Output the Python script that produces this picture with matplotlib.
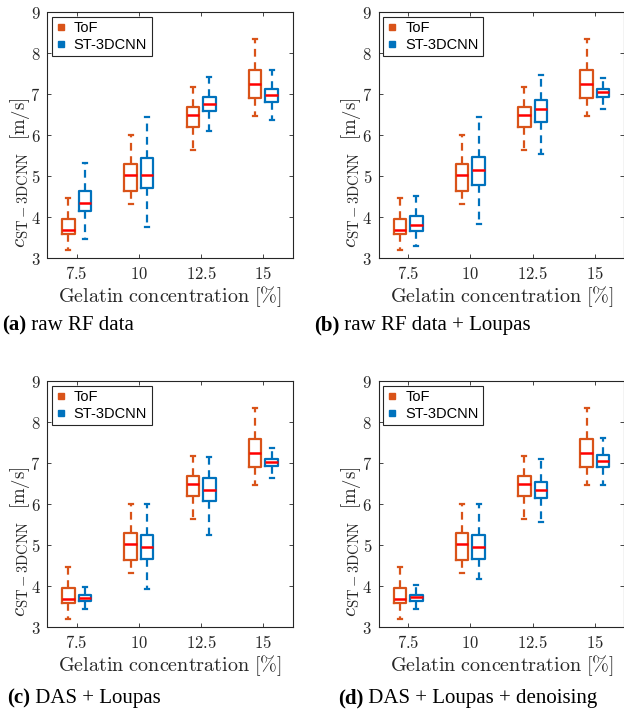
import numpy as np
import matplotlib.pyplot as plt
from matplotlib.lines import Line2D

plt.rcParams['mathtext.fontset'] = 'cm'

# concentrations en x
conc = [7.5, 10, 12.5, 15]
conc_labels = ['7.5', '10', '12.5', '15']

# ToF (identique sur les 4 panneaux): whislo, q1, med, q3, whishi
tof_lo = [3.20, 4.32, 5.65, 6.47]
tof_q1 = [3.59, 4.63, 6.20, 6.91]
tof_med = [3.70, 5.02, 6.50, 7.24]
tof_q3 = [3.95, 5.30, 6.70, 7.59]
tof_hi = [4.47, 6.01, 7.18, 8.35]

# ST-3DCNN (a) raw RF data
a_lo = [3.46, 3.76, 6.11, 6.37]
a_q1 = [4.15, 4.72, 6.59, 6.81]
a_med = [4.36, 5.04, 6.76, 6.99]
a_q3 = [4.63, 5.45, 6.93, 7.12]
a_hi = [5.33, 6.45, 7.42, 7.59]

# (b) raw RF data + Loupas
b_lo = [3.31, 3.84, 5.54, 6.65]
b_q1 = [3.67, 4.78, 6.33, 6.93]
b_med = [3.82, 5.15, 6.64, 7.06]
b_q3 = [4.02, 5.46, 6.86, 7.12]
b_hi = [4.51, 6.45, 7.46, 7.40]

# (c) DAS + Loupas
c_lo = [3.45, 3.94, 5.25, 6.65]
c_q1 = [3.63, 4.67, 6.07, 6.93]
c_med = [3.71, 4.96, 6.35, 7.02]
c_q3 = [3.78, 5.26, 6.65, 7.11]
c_hi = [3.98, 6.01, 7.16, 7.37]

# (d) DAS + Loupas + denoising
d_lo = [3.45, 4.19, 5.57, 6.47]
d_q1 = [3.65, 4.67, 6.16, 6.90]
d_med = [3.73, 4.96, 6.35, 7.05]
d_q3 = [3.80, 5.26, 6.54, 7.20]
d_hi = [4.02, 6.01, 7.11, 7.62]

st_data = [(a_lo, a_q1, a_med, a_q3, a_hi),
           (b_lo, b_q1, b_med, b_q3, b_hi),
           (c_lo, c_q1, c_med, c_q3, c_hi),
           (d_lo, d_q1, d_med, d_q3, d_hi)]
tof_data = (tof_lo, tof_q1, tof_med, tof_q3, tof_hi)

captions = [('(a)', ' raw RF data'),
            ('(b)', ' raw RF data + Loupas'),
            ('(c)', ' DAS + Loupas'),
            ('(d)', ' DAS + Loupas + denoising')]

c_tof = '#D95319'
c_st = '#0072BD'
gris = '#262626'

W, H = 624, 713
fig = plt.figure(figsize=(W / 100, H / 100), dpi=100)

# positions des axes en pixels (gauche, haut)
rects = [(47.5, 12.3), (379, 12.3), (47.5, 381.3), (379, 381.3)]
cap_pos = [(2, 330), (314, 330), (7, 703), (338, 703)]
aw, ah = 245, 246


def stats(d):
    lo, q1, med, q3, hi = d
    return [dict(whislo=lo[i], q1=q1[i], med=med[i], q3=q3[i], whishi=hi[i], fliers=[])
            for i in range(len(med))]


def boites(ax, d, pos, col):
    ax.bxp(stats(d), positions=pos, widths=0.5, capwidths=0.16, showfliers=False,
           boxprops=dict(color=col, lw=1.6),
           whiskerprops=dict(color=col, lw=1.6, linestyle=(0, (3.5, 2.5))),
           capprops=dict(color=col, lw=1.6),
           medianprops=dict(color='red', lw=1.8),
           manage_ticks=False)


for k in range(4):
    x0, y0 = rects[k]
    ax = fig.add_axes([x0 / W, 1 - (y0 + ah) / H, aw / W, ah / H])
    boites(ax, tof_data, [c - 0.33 for c in conc], c_tof)
    boites(ax, st_data[k], [c + 0.33 for c in conc], c_st)

    ax.set_xlim(6.33, 16.17)
    ax.set_ylim(3, 9)
    ax.set_xticks(conc)
    ax.set_xticklabels(['$' + s + '$' for s in conc_labels])
    ax.set_yticks(np.arange(3, 10))
    ax.set_yticklabels(['$%d$' % v for v in range(3, 10)])
    ax.tick_params(direction='in', top=True, right=True, length=3, width=0.6,
                   colors=gris, labelsize=12, pad=5)
    for s in ax.spines.values():
        s.set_color(gris)
        s.set_linewidth(0.8)

    ax.set_xlabel(r'$\mathrm{Gelatin\ concentration\ [\%]}$', fontsize=14.5, color=gris)
    ax.xaxis.set_label_coords(0.5, -0.105)
    ax.xaxis.label.set_va('top')

    # label y en deux morceaux (c_ST-3DCNN un peu plus grand que [m/s])
    ax.text(-0.092, 0.042, r'$c_{\mathrm{ST-3DCNN}}$', transform=ax.transAxes,
            rotation=90, rotation_mode='anchor', ha='left', va='baseline',
            fontsize=15, color=gris)
    ax.text(-0.092, 0.48, r'$[\mathrm{m/s}]$', transform=ax.transAxes,
            rotation=90, rotation_mode='anchor', ha='left', va='baseline',
            fontsize=13.5, color=gris)

    hdl = [Line2D([], [], marker='s', color=c_tof, ls='none', markersize=4),
           Line2D([], [], marker='s', color=c_st, ls='none', markersize=4)]
    leg = ax.legend(hdl, ['ToF', 'ST-3DCNN'], loc='upper left',
                    prop={'family': 'Liberation Sans', 'size': 10.5},
                    fancybox=False, edgecolor=gris, framealpha=1,
                    borderpad=0.3, handlelength=0.6, handletextpad=0.6,
                    borderaxespad=0.3, labelspacing=0.2)
    leg.get_frame().set_linewidth(0.8)

    cx, cy = cap_pos[k]
    t1 = fig.text(cx / W, 1 - cy / H, captions[k][0], family='Liberation Serif',
                  weight='bold', fontsize=15, va='baseline')
    ax.annotate(captions[k][1], xy=(1, 0), xycoords=t1, va='bottom', ha='left',
                family='Liberation Serif', fontsize=15, annotation_clip=False)

plt.savefig('out.png', dpi=100)
